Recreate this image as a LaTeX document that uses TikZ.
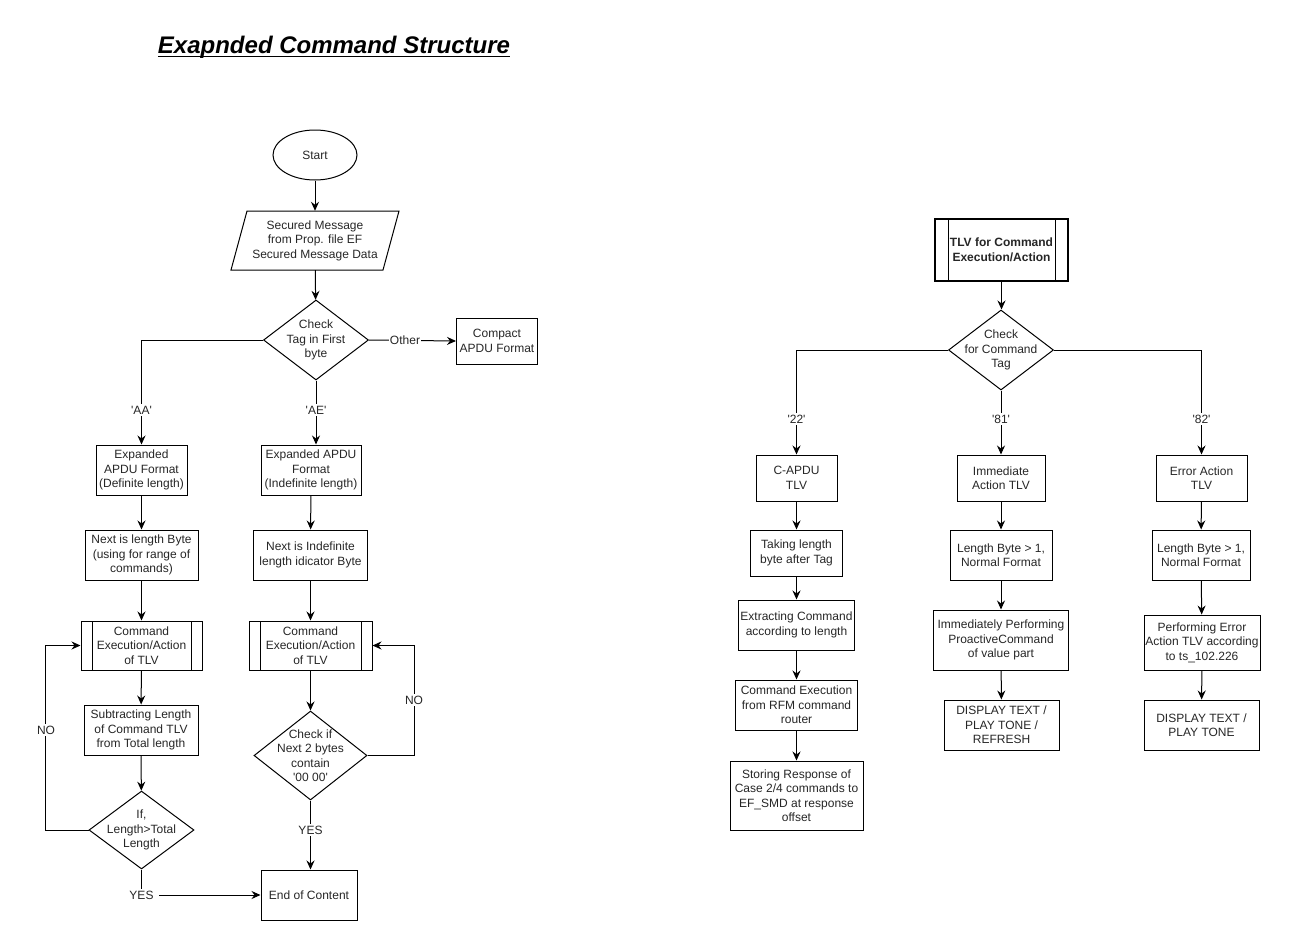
\documentclass[tikz,border=0pt]{standalone}
\usepackage{fontspec}
\setmainfont{Liberation Sans}
\usetikzlibrary{shapes.geometric,arrows.meta}
\newcommand{\sq}{\textquotesingle}
\begin{document}
\begin{tikzpicture}[x=1pt,y=-1pt,
  base/.style={font=\fontsize{12}{14.5}\selectfont, align=center, inner sep=0pt, text=black!85},
  box/.style={base, draw, rectangle, line width=1pt},
  proc/.style={box, path picture={\draw[line width=1pt]
     ([xshift=#1]path picture bounding box.north west) -- ([xshift=#1]path picture bounding box.south west)
     ([xshift=-#1]path picture bounding box.north east) -- ([xshift=-#1]path picture bounding box.south east);}},
  proc/.default=11pt,
  dec/.style={diamond, draw, inner sep=0pt, line width=1pt},
  lbl/.style={base, fill=white, inner xsep=3pt, inner ysep=1.5pt},
  arr/.style={draw, line width=1pt, -{Stealth[length=9pt,width=8pt,inset=3pt]}},
  ln/.style={draw, line width=1pt}
]
\useasboundingbox (0,0) rectangle (1291,951);

% title
\node[font=\fontsize{24}{28}\selectfont\bfseries\itshape, inner sep=0pt, anchor=base] (title) at (334,53) {Exapnded Command Structure};
\draw[line width=1.6pt] ([yshift=-3.5pt]title.base west) -- ([yshift=-3.5pt]title.base east);

% ---------------- left flow ----------------
\node[base, draw, ellipse, line width=1pt, minimum width=84, minimum height=50] (start) at (315,155) {Start};
\node[base, minimum width=140, minimum height=59] (msg) at (315,240.5) {Secured Message\\from Prop. file EF\\Secured Message Data};
\draw[line width=1pt] (247,211) -- (399,211) -- (383,270) -- (231,270) -- cycle;
\node[dec, minimum width=105, minimum height=80] (d1) at (316,340) {};
\node[base] at (d1) {Check\\Tag in First\\byte};
\node[box, minimum width=81, minimum height=46] (compact) at (497,341) {Compact\\APDU Format};

\node[box, minimum width=91, minimum height=50] (defA) at (141.5,470) {Expanded\\APDU Format\\(Definite length)};
\node[box, minimum width=100, minimum height=50] (defB) at (311,470) {Expanded APDU\\Format\\(Indefinite length)};
\node[box, minimum width=113, minimum height=50] (lenA) at (141.5,555) {Next is length Byte\\(using for range of\\commands)};
\node[box, minimum width=114, minimum height=50] (lenB) at (310.5,555) {Next is Indefinite\\length idicator Byte};
\node[proc, minimum width=121, minimum height=49] (cmdA) at (141.5,645.5) {Command\\Execution/Action\\of TLV};
\node[proc, minimum width=123, minimum height=49] (cmdB) at (310.5,645.5) {Command\\Execution/Action\\of TLV};
\node[box, minimum width=114, minimum height=50] (sub) at (141,730) {Subtracting Length\\of Command TLV\\from Total length};
\node[dec, minimum width=105, minimum height=78] (d2) at (141.5,830) {};
\node[base] at (d2) {If,\\Length>Total\\Length};
\node[dec, minimum width=113, minimum height=89] (d3) at (310.5,755.5) {};
\node[base] at (d3) {Check if\\Next 2 bytes\\contain\\\sq00 00\sq};
\node[box, minimum width=96, minimum height=50] (end) at (309,895) {End of Content};

\draw[arr] (start) -- (msg);
\draw[arr] (msg) -- (d1);
\draw[arr] (d1.east) -- (compact.west);
\node[lbl, inner xsep=1pt] at (405,340) {Other};
\draw[arr] (d1.west) -| (defA.north);
\node[lbl] at (141.5,410) {\sq AA\sq};
\draw[arr] (d1.south) -- (d1.south |- defB.north);
\node[lbl] at (316,410) {\sq AE\sq};
\draw[arr] (defA) -- (lenA);
\draw[arr] (defB) -- (lenB);
\draw[arr] (lenA) -- (cmdA);
\draw[arr] (lenB) -- (cmdB);
\draw[arr] (cmdA) -- (sub);
\draw[arr] (sub) -- (d2);
\draw[arr] (cmdB) -- (d3);
\draw[arr] (d2.west) -- ++(-43,0) |- (cmdA.west);
\node[lbl] at (46,730) {NO};
\draw[arr] (d3.east) -- ++(47,0) |- (cmdB.east);
\node[lbl] at (414,700) {NO};
\draw[arr] (d2.south) |- (end.west);
\node[lbl, inner xsep=5pt] at (141.5,895) {YES};
\draw[arr] (d3.south) -- (d3.south |- end.north);
\node[lbl] at (310.5,830) {YES};

% ---------------- right flow ----------------
\node[proc=13pt, line width=2pt, minimum width=133, minimum height=62, font=\fontsize{12}{14.5}\selectfont\bfseries] (tlv) at (1001.5,250) {TLV for Command\\Execution/Action};
\node[dec, minimum width=105, minimum height=80] (d4) at (1001,350) {};
\node[base] at (d4) {Check\\for Command\\Tag};

\node[box, minimum width=81, minimum height=46] (capdu) at (796.5,478) {C-APDU\\TLV};
\node[box, minimum width=88, minimum height=46] (imm) at (1001,478) {Immediate\\Action TLV};
\node[box, minimum width=91, minimum height=46] (err) at (1201.5,478) {Error Action\\TLV};

\node[box, minimum width=92, minimum height=46] (take) at (796.5,553) {Taking length\\byte after Tag};
\node[box, minimum width=116, minimum height=50] (extr) at (796.5,625) {Extracting Command\\according to length};
\node[box, minimum width=122, minimum height=50] (rfm) at (796.5,705) {Command Execution\\from RFM command\\router};
\node[box, minimum width=133, minimum height=69] (store) at (796.5,795.5) {Storing Response of\\Case 2/4 commands to\\EF\_SMD at response\\offset};

\node[box, minimum width=102, minimum height=50] (len2) at (1001,555) {Length Byte > 1,\\Normal Format};
\node[box, minimum width=135, minimum height=60] (immp) at (1001,640) {Immediately Performing\\ProactiveCommand\\of value part};
\node[box, minimum width=115, minimum height=50] (disp1) at (1001.5,725) {DISPLAY TEXT /\\PLAY TONE /\\REFRESH};

\node[box, minimum width=98, minimum height=50] (len3) at (1201,555) {Length Byte > 1,\\Normal Format};
\node[box, minimum width=116, minimum height=55] (errp) at (1202,642.5) {Performing Error\\Action TLV according\\to ts\_102.226};
\node[box, minimum width=115, minimum height=50] (disp2) at (1201.5,725) {DISPLAY TEXT /\\PLAY TONE};

\draw[arr] (tlv.south) -- (tlv.south |- d4.north);
\draw[arr] (d4.west) -| (capdu.north);
\node[lbl] at (796.5,419) {\sq22\sq};
\draw[arr] (d4.south) -- (d4.south |- imm.north);
\node[lbl] at (1001,419) {\sq81\sq};
\draw[arr] (d4.east) -| (err.north);
\node[lbl] at (1201.5,419) {\sq82\sq};

\draw[arr] (capdu) -- (take);
\draw[arr] (take) -- (extr);
\draw[arr] (extr) -- (rfm);
\draw[arr] (rfm) -- (store);
\draw[arr] (imm) -- (len2);
\draw[arr] (len2) -- (immp);
\draw[arr] (immp) -- (disp1);
\draw[arr] (err) -- (len3);
\draw[arr] (len3) -- (errp);
\draw[arr] (errp) -- (disp2);
\end{tikzpicture}
\end{document}
